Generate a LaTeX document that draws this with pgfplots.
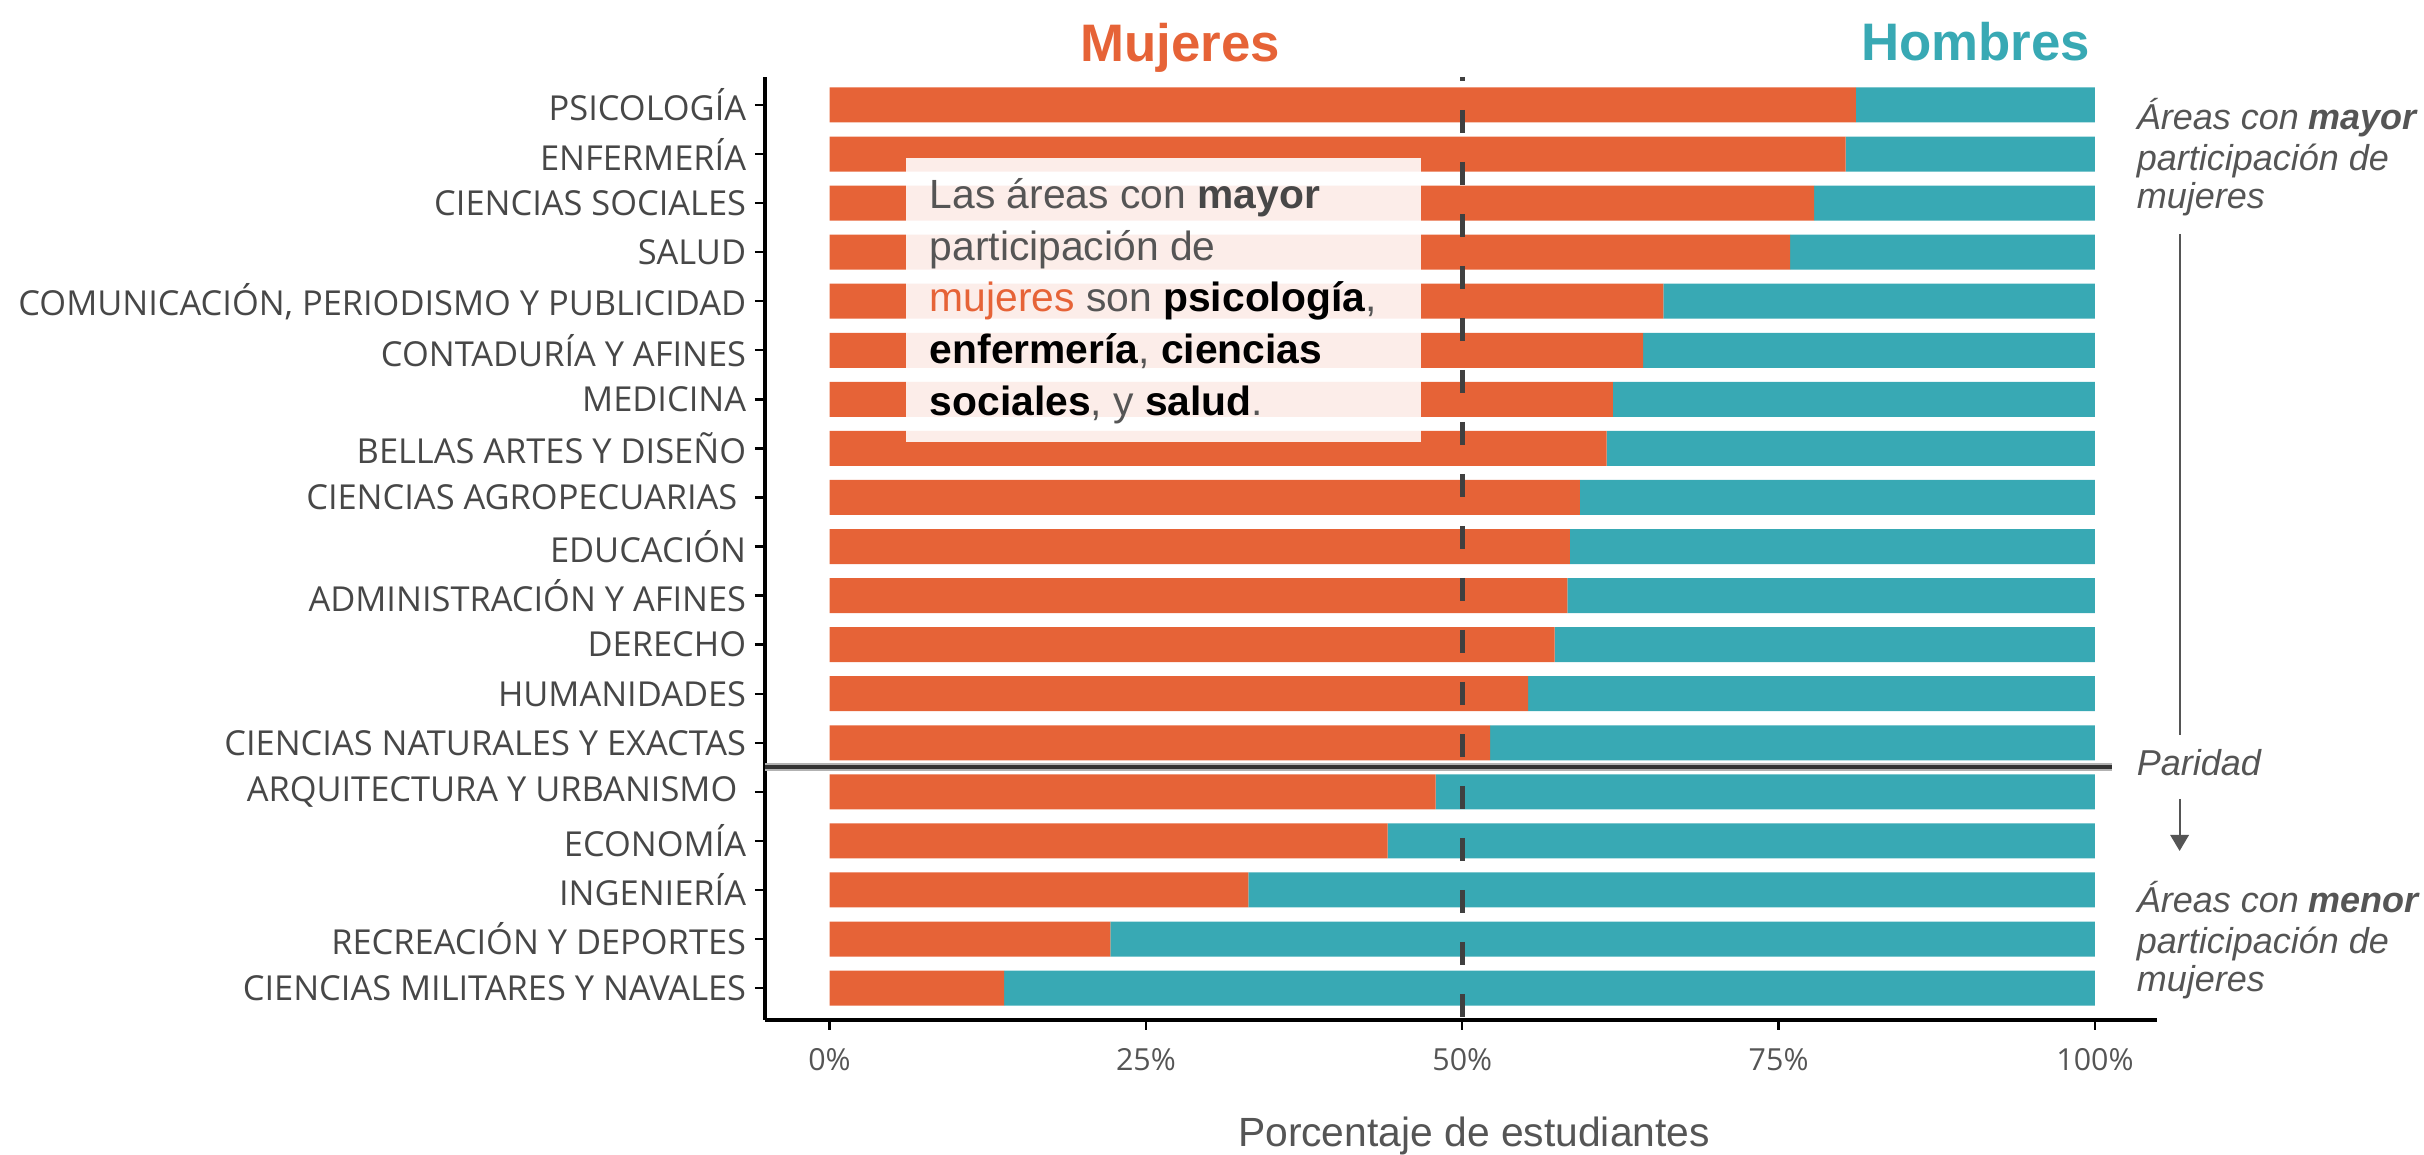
\documentclass[border=0pt]{standalone}
\usepackage{pgfplots}
\pgfplotsset{compat=1.18}
\usepackage{pgfplotstable}
\usepackage{fontspec}
\setmainfont{Open Sans}
\newfontfamily\ann{Liberation Sans}
\usetikzlibrary{arrows.meta}
\definecolor{muj}{HTML}{E66337}
\definecolor{hom}{HTML}{38A9B4}
\definecolor{txtg}{HTML}{474747}
\definecolor{anng}{HTML}{555555}
\definecolor{dashgray}{HTML}{404040}

\pgfplotstableread{
i m h
0 13.8 86.2
1 22.2 77.8
2 33.1 66.9
3 44.1 55.9
4 47.9 52.1
5 52.2 47.8
6 55.2 44.8
7 57.3 42.7
8 58.3 41.7
9 58.5 41.5
10 59.3 40.7
11 61.4 38.6
12 61.9 38.1
13 64.3 35.7
14 65.9 34.1
15 75.9 24.1
16 77.8 22.2
17 80.3 19.7
18 81.1 18.9
}\datos

\begin{document}
\begin{tikzpicture}[x=1pt,y=1pt]
\useasboundingbox (0,0) rectangle (606,288.75);
\begin{axis}[
  at={(191.25pt,33.75pt)}, anchor=south west,
  scale only axis, width=348pt, height=235.75pt,
  xbar stacked, bar width=8.75pt,
  xmin=-5.1, xmax=104.9, ymin=-0.65, ymax=18.57,
  axis x line*=bottom, axis y line*=left,
  axis line style={black, line width=0.8pt},
  tick style={black, line width=0.6pt},
  tick align=outside,
  major tick length=2.5pt,
  xtick={0,25,50,75,100},
  xticklabels={0\%,25\%,50\%,75\%,100\%},
  xticklabel style={font=\fontsize{7.6}{9}\selectfont, text=anng, yshift=-1pt},
  ytick={0,...,18},
  yticklabels={CIENCIAS MILITARES Y NAVALES, RECREACIÓN Y DEPORTES, INGENIERÍA, ECONOMÍA, ARQUITECTURA Y URBANISMO\kern2.2pt, CIENCIAS NATURALES Y EXACTAS, HUMANIDADES, DERECHO, ADMINISTRACIÓN Y AFINES, EDUCACIÓN, CIENCIAS AGROPECUARIAS\kern2.2pt, BELLAS ARTES Y DISEÑO, MEDICINA, CONTADURÍA Y AFINES, {COMUNICACIÓN, PERIODISMO Y PUBLICIDAD}, SALUD, CIENCIAS SOCIALES, ENFERMERÍA, PSICOLOGÍA},
  yticklabel style={font=\fontsize{8.6}{9}\selectfont, text=txtg, xshift=1.3pt},
  clip=false,
]
\addplot[fill=muj, draw=none] table[x=m, y=i] {\datos};
\addplot[fill=hom, draw=none] table[x=h, y=i] {\datos};
\end{axis}
% 50% reference line and parity line (50% -> x=365.6pt; y=4.5 -> 97pt)
\draw[dashgray, line width=1.1pt, dash pattern=on 5.75pt off 7.25pt, dash phase=4.75pt] (365.6,269.5) -- (365.6,33.75);
\draw[black!30, line width=1.9pt] (191.25,97) -- (528,97);
\draw[black!80, line width=1pt] (191.25,97) -- (528,97);
% annotation box
\fill[white, opacity=0.89] (226.5,178.25) rectangle (355.25,249.25);
\begin{scope}[every node/.style={anchor=base west, inner sep=0pt, font=\ann\fontsize{10.2}{12}\selectfont, text=anng}]
\node at (232.25,236.5) {Las áreas con \textbf{\textcolor{txtg}{mayor}}};
\node at (232.25,223.6) {participación de};
\node at (232.25,210.75) {\textcolor{muj}{mujeres} son \textbf{\textcolor{black}{psicología}},};
\node at (232.25,197.75) {\textbf{\textcolor{black}{enfermería}}, \textbf{\textcolor{black}{ciencias}}};
\node at (232.25,184.8) {\textbf{\textcolor{black}{sociales}}, y \textbf{\textcolor{black}{salud}}.};
\end{scope}
% titles
\node[anchor=base, inner sep=0pt, font=\ann\bfseries\fontsize{13.2}{15}\selectfont, text=muj] at (295.1,273.4) {Mujeres};
\node[anchor=base, inner sep=0pt, font=\ann\bfseries\fontsize{13.2}{15}\selectfont, text=hom] at (493.9,273.5) {Hombres};
% right notes
\begin{scope}[every node/.style={anchor=base west, inner sep=0pt, font=\ann\itshape\fontsize{9}{11}\selectfont, text=anng}]
\node at (534,256.25) {Áreas con \textbf{mayor}};
\node at (534,246.1) {participación de};
\node at (534,236.55) {mujeres};
\node at (534,94.75) {Paridad};
\node at (534,60.5) {Áreas con \textbf{menor}};
\node at (534,50.4) {participación de};
\node at (534,40.75) {mujeres};
\end{scope}
\draw[anng, line width=0.5pt] (544.9,230.25) -- (544.9,105.1);
\draw[anng, line width=0.5pt, -{Triangle[width=4.6pt,length=4pt]}] (544.9,89) -- (544.9,76);
% x label
\node[anchor=base, inner sep=0pt, font=\ann\fontsize{10.2}{12}\selectfont, text=anng] at (368.5,2.1) {Porcentaje de estudiantes};
\end{tikzpicture}
\end{document}
